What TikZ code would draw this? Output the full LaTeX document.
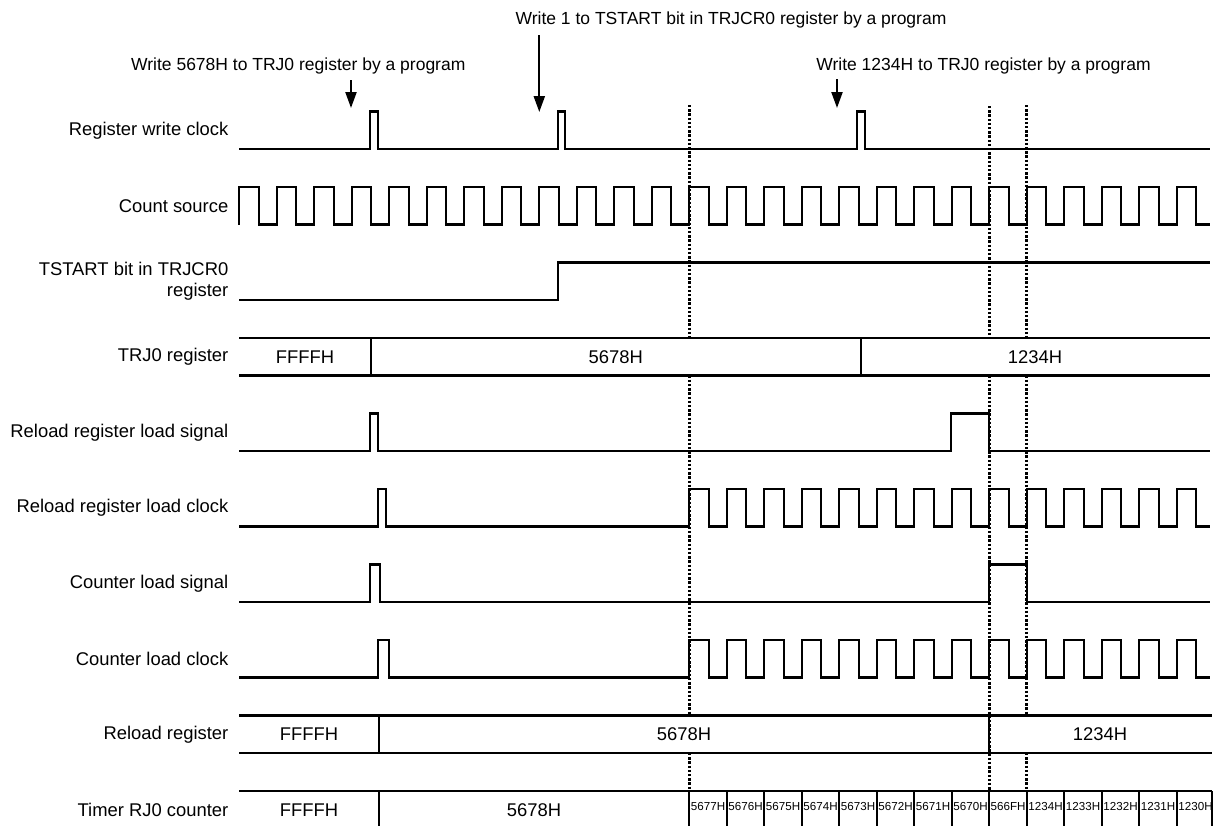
\documentclass[tikz,border=0pt]{standalone}
\usepackage{fontspec}
\setmainfont{Liberation Sans}
\usepackage{tikz}
\usetikzlibrary{calc,arrows.meta}
\tikzset{
  sig/.style={line width=1.1pt, line join=miter},
  dotline/.style={line width=1.4pt, dash pattern=on 1.2pt off 0.9pt},
  lbl/.style={anchor=east, inner sep=0pt, align=right, font=\fontsize{9.2}{10.85}\selectfont},
  val/.style={inner sep=0pt, font=\fontsize{9.2}{11}\selectfont},
  cnt/.style={inner sep=0pt, font=\fontsize{5.8}{6}\selectfont},
  note/.style={inner sep=0pt, font=\fontsize{8.75}{11}\selectfont},
  wr/.style={-{Triangle[length=8pt,width=5.5pt]}, line width=1.1pt}
}
% #1 = low level, #2 = index of first rising edge, #3 = path up to that edge
\newcommand{\clockrow}[3]{%
  \draw[sig] #3 ({239.3+37.5*#2},#1)
    \foreach \k in {#2,...,24}{ -- ++(0,-37.5) -- ++(19.5,0) -- ++(0,37.5) -- ++(18,0)}
    -- ++(0,-37.5) -- ++(19.5,0) -- ++(0,37.5) -- (1210,#1);}

\begin{document}
\begin{tikzpicture}[x=0.5pt, y=-0.5pt]
  \useasboundingbox (0,0) rectangle (1215,826);
  % row labels
  \node[lbl] (lrw)  at (228.7,130.25) {Register write clock};
  \node[lbl] (lcs)  at (228.7,205.75) {Count source};
  \node[lbl] (lts)  at (228.7,281.25) {TSTART bit in TRJCR0\\register};
  \node[lbl] (ltrj) at (228.7,356.75) {TRJ0 register};
  \node[lbl] (lrls) at (228.7,432.25) {Reload register load signal};
  \node[lbl] (lrlc) at (228.7,507.75) {Reload register load clock};
  \node[lbl] (lcls) at (228.7,583.25) {Counter load signal};
  \node[lbl] (lclc) at (228.7,658.75) {Counter load clock};
  \node[lbl] (lrr)  at (228.7,734.25) {Reload register};
  \node[lbl] (ltc)  at (228.7,809.75) {Timer RJ0 counter};
  % program writes
  \node[note] (n1) at (298.3,66) {Write 5678H to TRJ0 register by a program};
  \node[note] (n2) at (731,20) {Write 1 to TSTART bit in TRJCR0 register by a program};
  \node[note] (n3) at (983.5,66) {Write 1234H to TRJ0 register by a program};
  \coordinate (w1a) at (351,80);    \coordinate (w1b) at (351,108);
  \coordinate (w2a) at (539.3,35);  \coordinate (w2b) at (539.3,112);
  \coordinate (w3a) at (837,79);    \coordinate (w3b) at (837,108);
  \draw[wr] (w1a) -- (w1b);
  \draw[wr] (w2a) -- (w2b);
  \draw[wr] (w3a) -- (w3b);
  % waveforms
  \draw[sig] (239.3,149) -| (370,111.5) -| (377.7,149) -| (557.7,111.5) -| (565,149)
    -| (856.7,111.5) -| (864.6,149) -- (1210,149);
  \clockrow{224.5}{0}{}
  \draw[sig] (239.3,300) -| (557.7,262.5) -- (1210,262.5);
  \draw[sig] (239.3,338) -- (1210,338) (239.3,375.5) -- (1210,375.5)
    (370.7,338) -- (370.7,375.5) (860.8,338) -- (860.8,375.5);
  \node[val] (v1) at (305,356.75) {FFFFH};
  \node[val] (v2) at (615.7,356.75) {5678H};
  \node[val] (v3) at (1035,356.75) {1234H};
  \draw[sig] (239.3,451) -| (370,413.5) -| (378.3,451) -| (951.2,413.5) -| (989.3,451) -- (1210,451);
  \clockrow{526.5}{12}{(239.3,526.5) -| (378,489) -| (385.7,526.5) --}
  \draw[sig] (239.3,602) -| (370.3,564.5) -| (380.3,602) -| (989.3,564.5) -| (1026.8,602) -- (1210,602);
  \clockrow{677.5}{12}{(239.3,677.5) -| (378,640) -| (389.3,677.5) --}
  \draw[sig] (239.3,715.5) -- (1212,715.5) (239.3,753) -- (1212,753)
    (378.6,715.5) -- (378.6,753) (989.3,715.5) -- (989.3,753);
  \node[val] (r1) at (309,734.25) {FFFFH};
  \node[val] (r2) at (684,734.25) {5678H};
  \node[val] (r3) at (1100,734.25) {1234H};
  \draw[sig] (239.3,791) -- (1212,791) (378.6,791) -- (378.6,826) (1212,791) -- (1212,826);
  \node[val] (c1) at (309,809.75) {FFFFH};
  \node[val] (c2) at (534,809.75) {5678H};
  \foreach \i in {0,...,13}
    \draw[sig] ({689.3+37.5*\i},791) -- ++(0,35);
  \foreach \v [count=\i from 0] in {5677H,5676H,5675H,5674H,5673H,5672H,5671H,5670H,566FH,1234H,1233H,1232H,1231H,1230H}
    \node[cnt] (t\i) at ({708.05+37.5*\i},806) {\v};
  % timing guides
  \foreach \x in {689.3,1026.8}{
    \draw[dotline] (\x,105) -- (\x,338) (\x,375.5) -- (\x,715.5) (\x,753) -- (\x,791);}
  \draw[dotline] (989.3,106) -- (989.3,338) (989.3,375.5) -- (989.3,791);
\end{tikzpicture}
\end{document}
